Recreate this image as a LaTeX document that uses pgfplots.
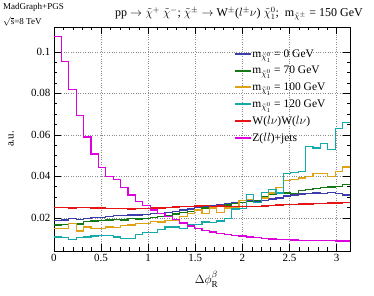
\documentclass[border=0pt]{standalone}
\usepackage{fontspec}
\setmainfont{Liberation Serif}
\usepackage{pgfplots}
\usepackage{pgfplotstable}
\pgfplotsset{compat=1.18}
\definecolor{cblue}{RGB}{60,60,170}
\definecolor{cgreen}{RGB}{20,120,20}
\definecolor{corange}{RGB}{222,162,20}
\definecolor{ccyan}{RGB}{20,170,170}
\definecolor{cred}{RGB}{230,20,20}
\definecolor{cmag}{RGB}{220,0,220}
\pgfplotstableread{
x        b0     g70    o100   c120   ww     zj
0.00000  .0188  .0165  .0150  .0108  .0250  .1075
0.07854  .0190  .0168  .0148  .0106  .0249  .0953
0.15708  .0195  .0172  .0171  .0097  .0248  .0817
0.23562  .0193  .0170  .0137  .0105  .0250  .0692
0.31416  .0198  .0182  .0155  .0107  .0249  .0589
0.39270  .0200  .0185  .0148  .0113  .0247  .0507
0.47124  .0203  .0188  .0147  .0115  .0247  .0444
0.54978  .0207  .0190  .0155  .0114  .0246  .0400
0.62832  .0212  .0192  .0154  .0107  .0245  .0385
0.70686  .0210  .0190  .0163  .0099  .0244  .0345
0.78540  .0213  .0195  .0166  .0100  .0243  .0310
0.86394  .0214  .0194  .0174  .0118  .0244  .0280
0.94248  .0216  .0198  .0172  .0128  .0245  .0258
1.02102  .0220  .0200  .0182  .0130  .0247  .0237
1.09956  .0222  .0205  .0180  .0142  .0248  .0222
1.17810  .0224  .0210  .0187  .0155  .0250  .0205
1.25664  .0230  .0218  .0190  .0156  .0252  .0192
1.33518  .0238  .0226  .0205  .0147  .0254  .0175
1.41372  .0242  .0232  .0220  .0165  .0256  .0160
1.49226  .0250  .0240  .0238  .0168  .0257  .0148
1.57080  .0255  .0248  .0222  .0180  .0258  .0138
1.64934  .0260  .0252  .0247  .0177  .0256  .0132
1.72788  .0265  .0256  .0226  .0184  .0257  .0126
1.80642  .0270  .0262  .0247  .0195  .0255  .0120
1.88496  .0272  .0270  .0250  .0242  .0254  .0116
1.96350  .0275  .0275  .0285  .0244  .0253  .0112
2.04204  .0282  .0278  .0287  .0311  .0255  .0108
2.12058  .0280  .0285  .0274  .0274  .0256  .0104
2.19911  .0285  .0300  .0295  .0322  .0257  .0101
2.27765  .0290  .0315  .0320  .0338  .0258  .0098
2.35619  .0295  .0322  .0345  .0319  .0262  .0096
2.43473  .0305  .0320  .0380  .0415  .0263  .0094
2.51327  .0310  .0318  .0385  .0418  .0265  .0093
2.59181  .0315  .0330  .0392  .0423  .0266  .0092
2.67035  .0318  .0338  .0400  .0544  .0267  .0091
2.74889  .0320  .0342  .0412  .0536  .0268  .0090
2.82743  .0318  .0345  .0412  .0557  .0270  .0089
2.90597  .0322  .0348  .0398  .0530  .0271  .0089
2.98451  .0318  .0352  .0423  .0630  .0272  .0088
3.06305  .0310  .0360  .0445  .0660  .0275  .0088
3.14159  .0310  .0360  .0445  .0660  .0275  .0088
}\histdata
\begin{document}
\begin{tikzpicture}
\begin{axis}[
  scale only axis,
  width=296pt, height=224pt,
  xmin=0, xmax=3.14159, ymin=0.004, ymax=0.112,
  xtick={0,0.5,1,1.5,2,2.5,3},
  xticklabels={0,0.5,1,1.5,2,2.5,3},
  ytick={0.02,0.04,0.06,0.08,0.1},
  yticklabels={0.02,0.04,0.06,0.08,0.1},
  minor x tick num=4,
  minor y tick num=3,
  tick align=inside,
  xtick pos=both, ytick pos=both,
  major tick length=7pt, minor tick length=3.5pt,
  tick style={black, line width=0.5pt},
  axis line style={line width=0.6pt},
  grid=major,
  major grid style={dotted, black!45, line width=0.5pt},
  tick label style={font=\fontsize{11}{12}\selectfont},
  xlabel={$\Delta\phi_{\mathrm{R}}^{\beta}$},
  ylabel={a.u.},
  x label style={at={(axis description cs:0.515,0)}, anchor=north, yshift=-17pt, font=\fontsize{13}{14}\selectfont},
  y label style={at={(axis description cs:-0.145,0.5)}, anchor=center, rotate=0, font=\fontsize{11}{12}\selectfont},
  legend style={at={(rel axis cs:0.608,0.903)}, anchor=north west, draw=none, fill=none,
    font=\fontsize{11.5}{12}\selectfont, row sep=6.5pt, inner sep=0pt,
    nodes={inner sep=0.5pt}},
  legend cell align=left,
  legend image code/.code={\draw[#1, line width=1.8pt] (0pt,0pt) -- (16pt,0pt);},
]
\addplot[const plot, line width=1.3pt, draw=cblue] table[x=x,y=b0] {\histdata};
\addlegendentry{m$_{\tilde{\chi}^{0}_{1}}$ = 0 GeV}
\addplot[const plot, line width=1.3pt, draw=cgreen] table[x=x,y=g70] {\histdata};
\addlegendentry{m$_{\tilde{\chi}^{0}_{1}}$ = 70 GeV}
\addplot[const plot, line width=1.3pt, draw=corange] table[x=x,y=o100] {\histdata};
\addlegendentry{m$_{\tilde{\chi}^{0}_{1}}$ = 100 GeV}
\addplot[const plot, line width=1.3pt, draw=ccyan] table[x=x,y=c120] {\histdata};
\addlegendentry{m$_{\tilde{\chi}^{0}_{1}}$ = 120 GeV}
\addplot[const plot, line width=1.3pt, draw=cred] table[x=x,y=ww] {\histdata};
\addlegendentry{W($l\nu$)W($l\nu$)}
\addplot[const plot, line width=1.3pt, draw=cmag] table[x=x,y=zj] {\histdata};
\addlegendentry{Z($ll$)+jets}
\end{axis}
\node[anchor=north west, font=\fontsize{9}{10}\selectfont, inner sep=0pt] at (-51pt,248pt) {MadGraph+PGS};
\node[anchor=north west, font=\fontsize{9}{10}\selectfont, inner sep=0pt] at (-51pt,234pt) {$\sqrt{\mathrm{s}}$=8 TeV};
\node[anchor=center, font=\fontsize{12}{13}\selectfont, inner sep=0pt] at (185pt,237pt)
  {pp $\rightarrow\tilde{\chi}^{+}\ \tilde{\chi}^{-}$; $\tilde{\chi}^{\pm}\rightarrow$ W$^{\pm}$($l^{\pm}\nu$) $\tilde{\chi}^{0}_{1}$;\ \ m$_{\tilde{\chi}^{\pm}}$ = 150 GeV};
\pgfresetboundingbox
\path (-54pt,-45pt) rectangle (320pt,251pt);
\end{tikzpicture}
\end{document}
